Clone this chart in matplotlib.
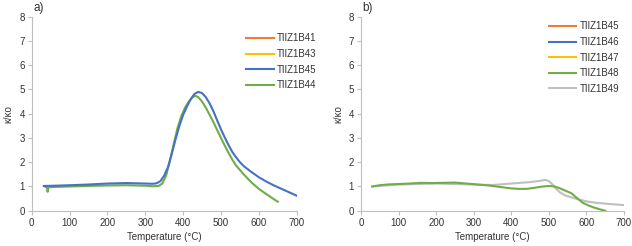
import matplotlib
matplotlib.use("Agg")
import matplotlib.pyplot as plt

plt.rcParams['font.family'] = ['Liberation Sans', 'DejaVu Sans']

# --- Panel a) data ---
a_t45 = [32, 60, 100, 150, 200, 250, 300, 320, 330, 340, 350, 360, 370, 380, 390,
         400, 410, 420, 430, 440, 450, 460, 470, 480, 490, 500, 510, 520, 530, 540,
         550, 560, 580, 600, 620, 640, 660, 680, 700]
a_v45 = [1.02, 1.03, 1.05, 1.08, 1.12, 1.14, 1.12, 1.11, 1.13, 1.22, 1.45, 1.8, 2.35,
         2.95, 3.5, 3.95, 4.3, 4.6, 4.82, 4.9, 4.85, 4.68, 4.42, 4.1, 3.72, 3.35,
         3.02, 2.7, 2.42, 2.2, 2.0, 1.84, 1.6, 1.38, 1.2, 1.04, 0.9, 0.76, 0.62]

a_t44 = [36, 40, 42, 44, 48, 60, 100, 150, 200, 250, 300, 320, 335, 345, 355, 365,
         375, 385, 395, 405, 415, 425, 432, 440, 450, 460, 470, 480, 490, 500, 510,
         520, 530, 540, 560, 580, 600, 620, 640, 650]
a_v44 = [0.98, 0.97, 0.78, 0.97, 0.97, 0.98, 1.0, 1.02, 1.04, 1.05, 1.03, 1.01, 1.02,
         1.12, 1.45, 2.05, 2.75, 3.4, 3.9, 4.25, 4.5, 4.68, 4.74, 4.68, 4.5, 4.25,
         3.95, 3.65, 3.32, 3.0, 2.68, 2.38, 2.1, 1.86, 1.5, 1.17, 0.9, 0.68, 0.47, 0.37]

# --- Panel b) data ---
b_t49 = [30, 100, 200, 300, 350, 400, 450, 480, 490, 500, 510, 520, 530, 545, 560,
         580, 605, 630, 660, 700]
b_v49 = [1.0, 1.08, 1.12, 1.08, 1.06, 1.12, 1.18, 1.24, 1.27, 1.22, 1.08, 0.9, 0.75,
         0.62, 0.55, 0.46, 0.37, 0.32, 0.28, 0.23]

b_t48 = [30, 50, 70, 100, 130, 160, 190, 220, 250, 280, 310, 340, 370, 400, 420,
         440, 460, 480, 500, 515, 530, 545, 560, 575, 590, 605, 620, 635, 650]
b_v48 = [1.0, 1.05, 1.08, 1.1, 1.12, 1.15, 1.14, 1.15, 1.16, 1.12, 1.08, 1.04, 0.98,
         0.92, 0.9, 0.9, 0.94, 0.99, 1.02, 1.0, 0.92, 0.82, 0.72, 0.52, 0.33, 0.22,
         0.13, 0.06, 0.0]

ORANGE = '#ED7D31'
YELLOW = '#FFC000'
BLUE = '#4472C4'
GREEN = '#70AD47'
GRAY = '#BFBFBF'
TXT = '#333333'
AX = '#BFBFBF'

fig = plt.figure(figsize=(6.32, 2.46), dpi=100)
ax1 = fig.add_axes([0.0502, 0.1435, 0.4193, 0.7885])
ax2 = fig.add_axes([0.5712, 0.1435, 0.4161, 0.7885])

lw = 1.5
ax1.plot([], [], color=ORANGE, lw=lw, label='TIIZ1B41')
ax1.plot([], [], color=YELLOW, lw=lw, label='TIIZ1B43')
ax1.plot(a_t45, a_v45, color=BLUE, lw=lw, label='TIIZ1B45', zorder=3)
ax1.plot(a_t44, a_v44, color=GREEN, lw=lw, label='TIIZ1B44', zorder=2)

ax2.plot([], [], color=ORANGE, lw=lw, label='TIIZ1B45')
ax2.plot([], [], color=BLUE, lw=lw, label='TIIZ1B46')
ax2.plot([], [], color=YELLOW, lw=lw, label='TIIZ1B47')
ax2.plot(b_t48, b_v48, color=GREEN, lw=lw, label='TIIZ1B48', zorder=3)
ax2.plot(b_t49, b_v49, color=GRAY, lw=lw, label='TIIZ1B49', zorder=2)

for ax, tag, lx, ly in [(ax1, 'a)', 0.805, 0.9345), (ax2, 'b)', 0.71, 0.996)]:
    ax.set_xlim(0, 700)
    ax.set_ylim(0, 8)
    ax.set_xticks(range(0, 701, 100))
    ax.set_yticks(range(0, 9))
    for s in ['top', 'right']:
        ax.spines[s].set_visible(False)
    for s in ['left', 'bottom']:
        ax.spines[s].set_color(AX)
        ax.spines[s].set_linewidth(0.8)
    ax.tick_params(colors=AX, labelcolor=TXT, labelsize=7, length=3, width=0.8, pad=2)
    ax.set_xlabel('Temperature (°C)', fontsize=7, color=TXT, labelpad=3)
    ax.set_ylabel('κ/κo', fontsize=7, color=TXT, labelpad=4)
    ax.text(0.005, 1.045, tag, transform=ax.transAxes, fontsize=8.5, color=TXT,
            va='center', ha='left')
    ax.legend(loc='upper left', bbox_to_anchor=(lx - 0.01, ly), frameon=False,
              fontsize=7, handlelength=2.8, handletextpad=0.35, labelspacing=0.575,
              borderaxespad=0, labelcolor=TXT)

fig.savefig('out.png', dpi=100)
